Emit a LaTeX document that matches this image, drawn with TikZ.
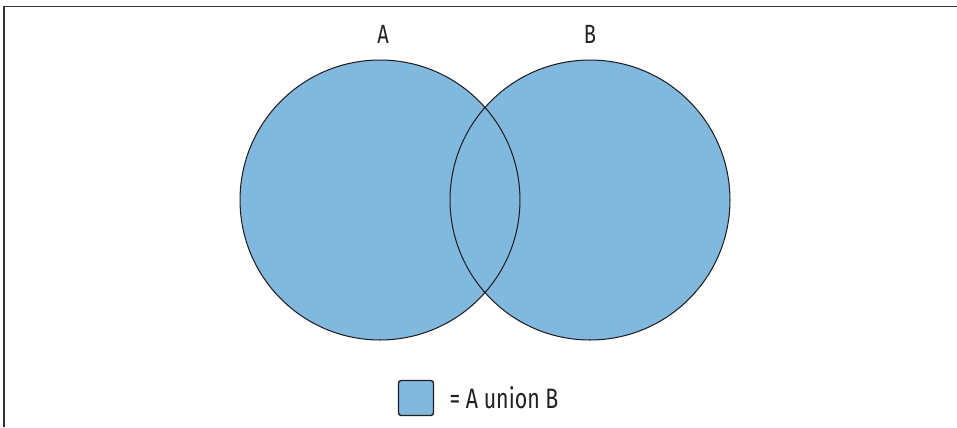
\documentclass[tikz,border=0pt]{standalone}
\usepackage{fontspec}
\setmainfont{Fira Sans}[FakeStretch=0.76]
\usetikzlibrary{positioning,backgrounds}

\definecolor{setblue}{HTML}{80B8DE}
\definecolor{inkdark}{HTML}{231F20}

\begin{document}
\begin{tikzpicture}[
    x=0.02cm, y=-0.02cm,
    setcirc/.style={circle, draw=inkdark, line width=0.6pt, minimum size=5.6cm, inner sep=0pt},
    setlabel/.style={font=\fontsize{15}{18}\selectfont, text=inkdark},
    keybox/.style={rectangle, rounded corners=1.5pt, draw=inkdark, line width=0.8pt, fill=setblue, minimum size=0.7cm, inner sep=0pt},
    frame/.style={draw=black!80, line width=0.9pt}
]
\useasboundingbox (0,0) rectangle (957,427);

% open frame, top and left side only
\coordinate (fr-bl) at (4,427);
\coordinate (fr-tl) at (4,6.5);
\coordinate (fr-tr) at (957,6.5);
\draw[frame] (fr-bl) -- (fr-tl) -- (fr-tr);

% the two sets
\node[setcirc] (circA) at (380,200) {};
\node[setcirc] (circB) at (590,200) {};
\begin{scope}[on background layer]
  \fill[setblue] (circA.center) circle[radius=140];
  \fill[setblue] (circB.center) circle[radius=140];
\end{scope}

% set names
\node[setlabel] (labA) at (383,34) {A};
\node[setlabel] (labB) at (590,34) {B};

% legend
\node[keybox] (key) at (416,398) {};
\node[setlabel, font=\fontsize{16}{19}\selectfont, inner sep=0pt, right=0.3cm of key] (keytext) {= A union B};

\end{tikzpicture}
\end{document}
